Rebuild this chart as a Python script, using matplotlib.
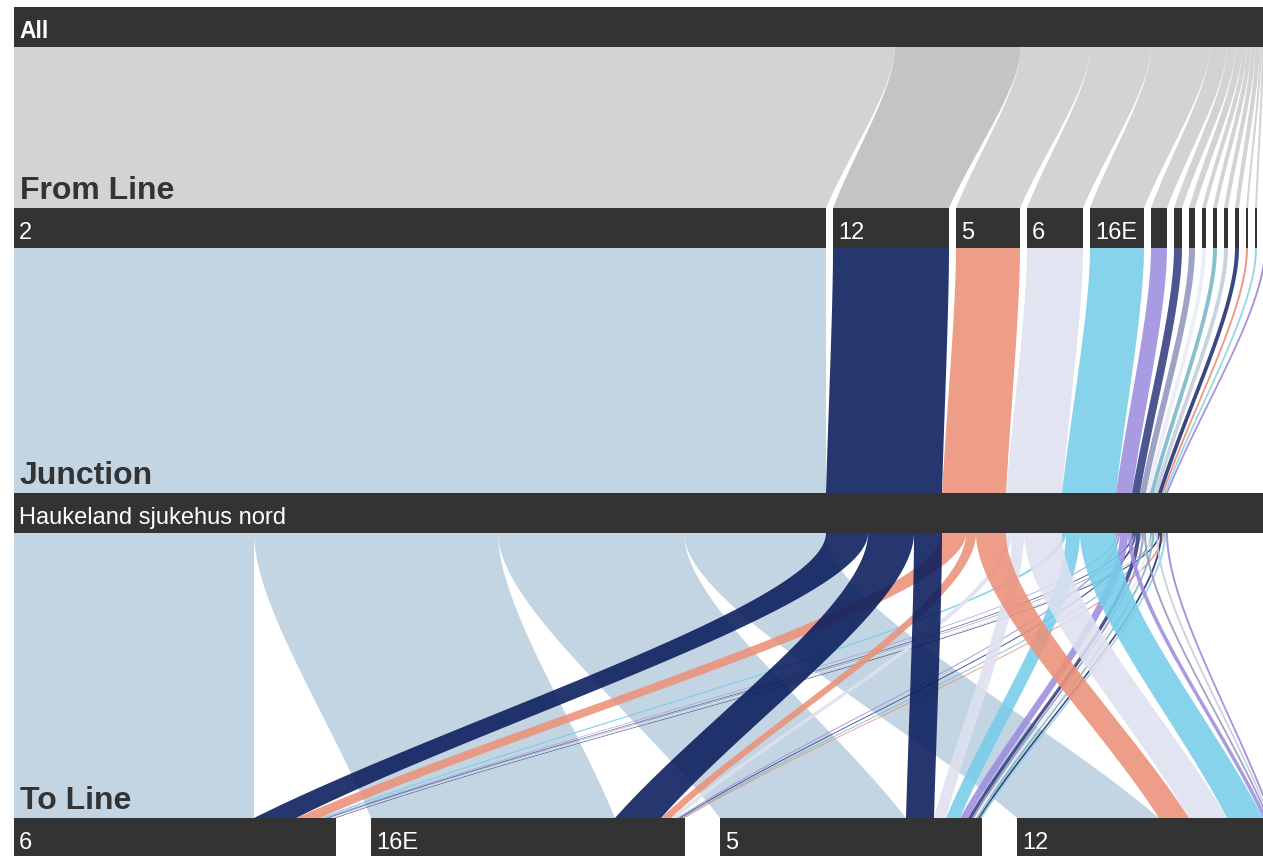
import matplotlib

matplotlib.use("Agg")
import matplotlib.pyplot as plt
import numpy as np
from matplotlib.colors import to_rgb
from matplotlib.patches import Polygon, Rectangle

plt.rcParams["font.family"] = ["Liberation Sans", "DejaVu Sans"]

junction_name = "Haukeland sjukehus nord"
from_lines = ["2", "12", "5", "6", "16E", "3", "4", "11", "19", "20", "21", "23", "26", "50E", "90"]
to_lines = ["6", "16E", "5", "12"]

# transfers at the junction, one list per To Line, aligned with from_lines
to_6 = [120, 21, 12, 0, 2, 1, 1, 1, 1, 0, 1, 1, 0, 0, 0]
to_16e = [122, 23, 5, 3, 0, 1, 1, 0, 0, 1, 0, 0, 1, 0, 0]
to_5 = [93, 14, 0, 6, 7, 4, 2, 1, 1, 1, 0, 1, 0, 1, 0]
to_12 = [71, 0, 15, 19, 18, 2, 0, 1, 0, 0, 1, 0, 0, 0, 1]

highlight_line = "12"

line_colors = [
    "#c3d6e3", "#26366f", "#ee9e88", "#e2e5f2", "#86d3ec",
    "#a99be2", "#4d5690", "#9ea2c4", "#eceef6", "#87bfcc",
    "#c8d3e0", "#3b4680", "#ec9a82", "#9bd6ea", "#a593e0",
]

BAR_COLOR = "#333333"
GRAY = "#d3d3d3"
GRAY_HI = "#c4c4c4"
ALPHA = 0.88

FIG_W, FIG_H = 1263, 856
PX = 2.0            # pixels per transfer
LEFT = 14           # left margin, pixels
FROM_GAP = 7 / PX
TO_GAP = 35 / PX
BAR_H = 40
TOP_ALL, TOP_FROM, TOP_JUNC, TOP_TO = 7, 208, 493, 818
BEND_TOP, BEND_BOT = 0.25, 0.35   # bezier handles: vertical start, straight finish


def base_color(hex_color, alpha):
    # colour that gives hex_color once blended on white with this alpha
    c = np.array(to_rgb(hex_color))
    return tuple(np.clip((c - (1 - alpha)) / alpha, 0, 1))


def edge(x0, x1, y0, y1, t):
    dy = y1 - y0
    px = [x0, x0, x1 - BEND_BOT * (x1 - x0), x1]
    py = [y0, y0 + BEND_TOP * dy, y1 - BEND_BOT * dy, y1]
    w = [(1 - t) ** 3, 3 * (1 - t) ** 2 * t, 3 * (1 - t) * t**2, t**3]
    return sum(a * b for a, b in zip(w, px)), sum(a * b for a, b in zip(w, py))


def ribbon(ax, top, bottom, y0, y1, color, alpha=1.0, z=1):
    t = np.linspace(0, 1, 100)
    xl, y = edge(top[0], bottom[0], y0, y1, t)
    xr, _ = edge(top[1], bottom[1], y0, y1, t)
    pts = np.column_stack([np.r_[xl, xr[::-1]], np.r_[y, y[::-1]]])
    ax.add_patch(Polygon(pts, closed=True, facecolor=color, edgecolor="none",
                         alpha=alpha, zorder=z))


def bar(ax, x, width, y_top, label, bold=False, min_px=30):
    ax.add_patch(Rectangle((x, y_top), width, BAR_H, facecolor=BAR_COLOR,
                           edgecolor="none", zorder=5))
    if width * PX >= min_px:
        ax.text(x + 5 / PX, y_top + 31, label, color="white",
                fontsize=16.5 if bold else 17, fontweight="bold" if bold else "normal",
                ha="left", va="baseline", zorder=6)


flows = np.array([to_6, to_16e, to_5, to_12], dtype=float).T
from_tot = flows.sum(axis=1)
to_tot = flows.sum(axis=0)
total = flows.sum()

from_start = np.r_[0, np.cumsum(from_tot + FROM_GAP)[:-1]]
chart_w = from_start[-1] + from_tot[-1]
all_scale = chart_w / total
all_start = np.r_[0, np.cumsum(from_tot)[:-1]] * all_scale
junc_start = np.r_[0, np.cumsum(from_tot)[:-1]]
to_start = np.r_[0, np.cumsum(to_tot + TO_GAP)[:-1]]

fig = plt.figure(figsize=(FIG_W / 100, FIG_H / 100), dpi=100)
ax = fig.add_axes([0, 0, 1, 1])
ax.set_xlim(-LEFT / PX, (FIG_W - LEFT) / PX)
ax.set_ylim(FIG_H, 0)
ax.axis("off")

# All -> From Line
for i, name in enumerate(from_lines):
    n = from_tot[i]
    ribbon(ax, (all_start[i], all_start[i] + n * all_scale),
           (from_start[i], from_start[i] + n),
           TOP_ALL + BAR_H, TOP_FROM,
           GRAY_HI if name == highlight_line else GRAY)

# From Line -> Junction
for i in range(len(from_lines)):
    n = from_tot[i]
    ribbon(ax, (from_start[i], from_start[i] + n),
           (junc_start[i], junc_start[i] + n),
           TOP_FROM + BAR_H, TOP_JUNC,
           base_color(line_colors[i], ALPHA), ALPHA)

# Junction -> To Line
to_offset = np.zeros(len(to_lines))
segments = []
for i in range(len(from_lines)):
    x_top = junc_start[i]
    for j in range(len(to_lines)):
        n = flows[i, j]
        if n > 0:
            x_bot = to_start[j] + to_offset[j]
            segments.append((i, (x_top, x_top + n), (x_bot, x_bot + n)))
            to_offset[j] += n
        x_top += n

draw_order = [0] + list(range(len(from_lines) - 1, 1, -1)) + [1]
for k, i in enumerate(draw_order):
    for si, top, bot in segments:
        if si == i:
            ribbon(ax, top, bot, TOP_JUNC + BAR_H, TOP_TO,
                   base_color(line_colors[i], ALPHA), ALPHA, z=2 + k * 0.01)

# bars
bar(ax, 0, chart_w, TOP_ALL, "All", bold=True)
for i, name in enumerate(from_lines):
    bar(ax, from_start[i], from_tot[i], TOP_FROM, name)
bar(ax, 0, chart_w, TOP_JUNC, junction_name)
for j, name in enumerate(to_lines):
    bar(ax, to_start[j], to_tot[j], TOP_TO, name)

# level titles
for title, y_top in [("From Line", TOP_FROM), ("Junction", TOP_JUNC), ("To Line", TOP_TO)]:
    ax.text(6 / PX, y_top - 9, title, color="#333333", fontsize=23,
            fontweight="bold", ha="left", va="baseline", zorder=7)

fig.savefig("out.png", dpi=100)
